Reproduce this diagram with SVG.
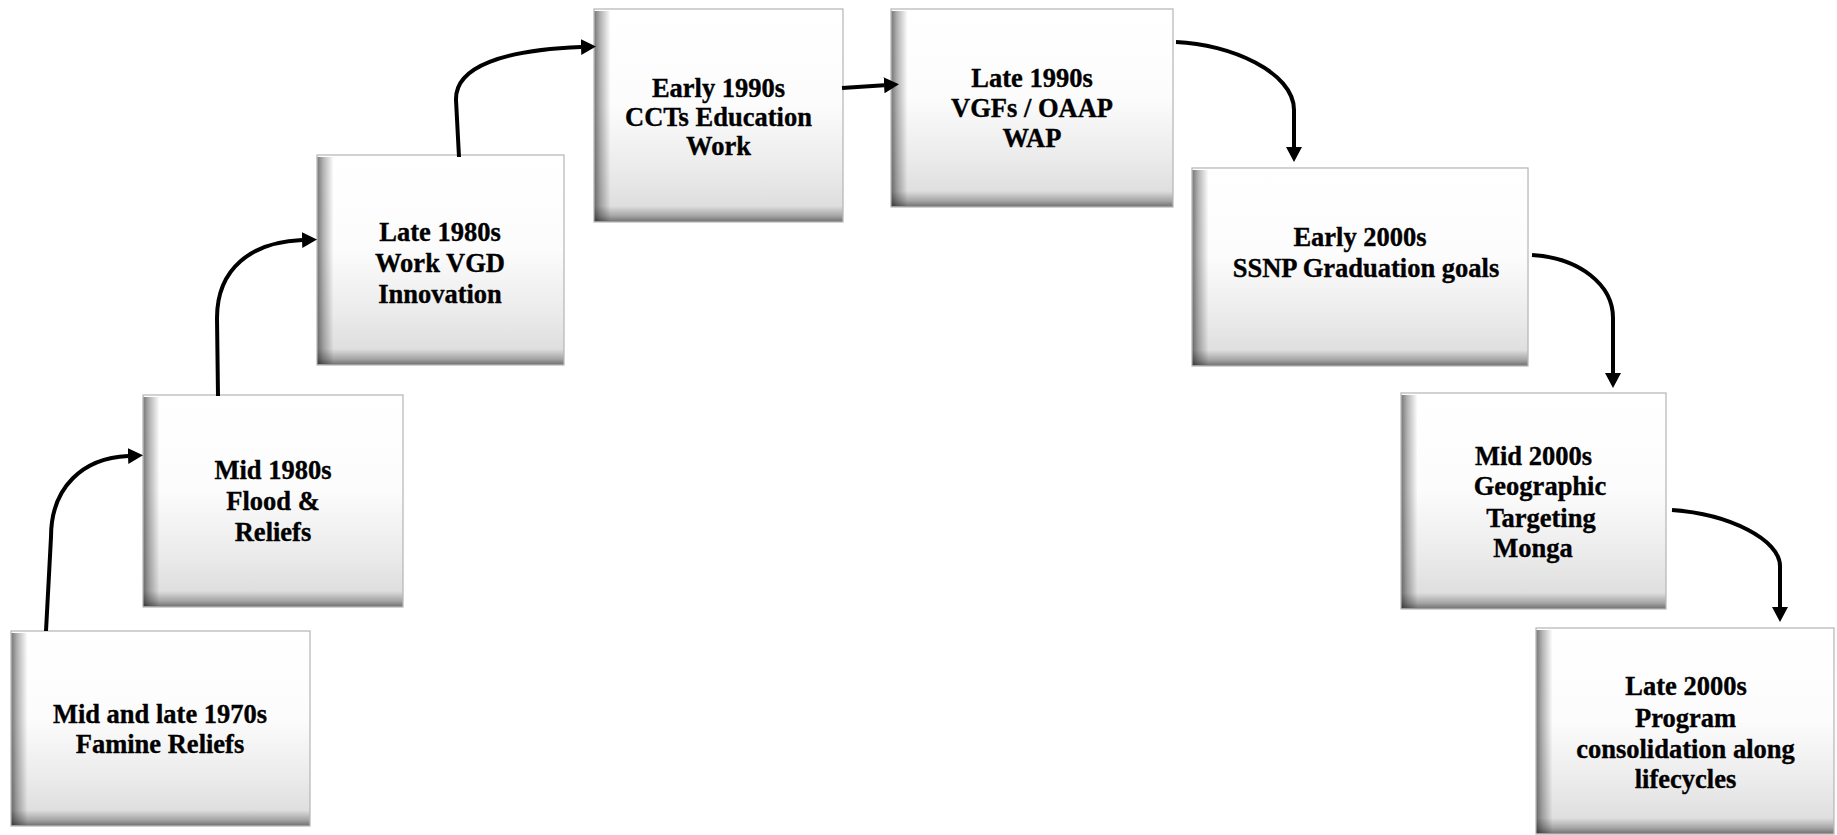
<svg xmlns="http://www.w3.org/2000/svg" width="1837" height="835" viewBox="0 0 1837 835">
  <style>
    .box { fill: url(#boxFill); stroke: #b4b4b4; stroke-width: 1.2; }
    .shadeL { fill: url(#shadeLeft); }
    .shadeB { fill: url(#shadeBottom); }
    .label { font-family: "Liberation Serif", "Times New Roman", serif; font-weight: bold; font-size: 26.5px; fill: #000; stroke: #000; stroke-width: 0.35; text-anchor: middle; }
    .link { fill: none; stroke: #000; stroke-width: 4; stroke-linecap: butt; marker-end: url(#head); }
  </style>
  <defs>
    <linearGradient id="boxFill" x1="0" y1="0" x2="0" y2="1">
      <stop offset="0" stop-color="#ffffff"/>
      <stop offset="0.45" stop-color="#fcfcfc"/>
      <stop offset="0.75" stop-color="#ebebeb"/>
      <stop offset="1" stop-color="#d9d9d9"/>
    </linearGradient>
    <linearGradient id="shadeLeft" x1="0" y1="0" x2="1" y2="0">
      <stop offset="0" stop-color="#000" stop-opacity="0.52"/>
      <stop offset="0.35" stop-color="#000" stop-opacity="0.3"/>
      <stop offset="1" stop-color="#000" stop-opacity="0"/>
    </linearGradient>
    <linearGradient id="shadeBottom" x1="0" y1="0" x2="0" y2="1">
      <stop offset="0" stop-color="#000" stop-opacity="0"/>
      <stop offset="0.65" stop-color="#000" stop-opacity="0.25"/>
      <stop offset="1" stop-color="#000" stop-opacity="0.47"/>
    </linearGradient>
    <marker id="head" markerUnits="userSpaceOnUse" markerWidth="16" markerHeight="16" refX="0" refY="8" orient="auto" viewBox="0 0 16 16">
      <path d="M0,0 L15,8 L0,16 Z" fill="#000"/>
    </marker>
  </defs>

  <!-- timeline stages -->
  <g id="node-1970s">
    <rect class="box" x="11" y="631" width="299" height="195"/>
    <rect class="shadeL" x="11.6" y="633" width="16" height="192"/>
    <rect class="shadeB" x="11.6" y="810" width="297.8" height="15.4"/>
    <text class="label" x="160" y="723">Mid and late 1970s</text>
    <text class="label" x="160" y="753">Famine Reliefs</text>
  </g>

  <g id="node-mid1980s">
    <rect class="box" x="143" y="395" width="260" height="212"/>
    <rect class="shadeL" x="143.6" y="397" width="16" height="209"/>
    <rect class="shadeB" x="143.6" y="591" width="258.8" height="15.4"/>
    <text class="label" x="273" y="479">Mid 1980s</text>
    <text class="label" x="273" y="510">Flood &amp;</text>
    <text class="label" x="273" y="541">Reliefs</text>
  </g>

  <g id="node-late1980s">
    <rect class="box" x="317" y="155" width="247" height="210"/>
    <rect class="shadeL" x="317.6" y="157" width="16" height="207"/>
    <rect class="shadeB" x="317.6" y="349" width="245.8" height="15.4"/>
    <text class="label" x="440" y="241">Late 1980s</text>
    <text class="label" x="440" y="272">Work VGD</text>
    <text class="label" x="440" y="303">Innovation</text>
  </g>

  <g id="node-early1990s">
    <rect class="box" x="594" y="9" width="249" height="213"/>
    <rect class="shadeL" x="594.6" y="11" width="16" height="210"/>
    <rect class="shadeB" x="594.6" y="206" width="247.8" height="15.4"/>
    <text class="label" x="718.5" y="97">Early 1990s</text>
    <text class="label" x="718.5" y="126">CCTs Education</text>
    <text class="label" x="718.5" y="155">Work</text>
  </g>

  <g id="node-late1990s">
    <rect class="box" x="891" y="9" width="282" height="198"/>
    <rect class="shadeL" x="891.6" y="11" width="16" height="195"/>
    <rect class="shadeB" x="891.6" y="191" width="280.8" height="15.4"/>
    <text class="label" x="1032" y="87">Late 1990s</text>
    <text class="label" x="1032" y="117">VGFs / OAAP</text>
    <text class="label" x="1032" y="147">WAP</text>
  </g>

  <g id="node-early2000s">
    <rect class="box" x="1192" y="168" width="336" height="198"/>
    <rect class="shadeL" x="1192.6" y="170" width="16" height="195"/>
    <rect class="shadeB" x="1192.6" y="350" width="334.8" height="15.4"/>
    <text class="label" x="1360" y="246">Early 2000s</text>
    <text class="label" x="1366" y="277">SSNP Graduation goals</text>
  </g>

  <g id="node-mid2000s">
    <rect class="box" x="1401" y="393" width="265" height="216"/>
    <rect class="shadeL" x="1401.6" y="395" width="16" height="213"/>
    <rect class="shadeB" x="1401.6" y="593" width="263.8" height="15.4"/>
    <text class="label" x="1533.5" y="465">Mid 2000s</text>
    <text class="label" x="1540" y="495">Geographic</text>
    <text class="label" x="1541" y="527">Targeting</text>
    <text class="label" x="1533" y="557">Monga</text>
  </g>

  <g id="node-late2000s">
    <rect class="box" x="1536" y="628" width="298" height="206"/>
    <rect class="shadeL" x="1536.6" y="630" width="16" height="203"/>
    <rect class="shadeB" x="1536.6" y="818" width="296.8" height="15.4"/>
    <text class="label" x="1686" y="695">Late 2000s</text>
    <text class="label" x="1685.5" y="727">Program</text>
    <text class="label" x="1685.5" y="758">consolidation along</text>
    <text class="label" x="1685.5" y="788">lifecycles</text>
  </g>

  <!-- connectors between stages -->
  <g id="connectors">
    <path class="link" d="M46,631 L51,537 C51,487 83,458 128,456"/>
    <path class="link" d="M218,396 L217,318 C217,268 252,242 302,240"/>
    <path class="link" d="M459,157 L456,100 C455,66 505,50 581,47"/>
    <path class="link" d="M842,88 L884,85.3"/>
    <path class="link" d="M1176,42 C1230,44 1294,72 1294,110 L1294,147"/>
    <path class="link" d="M1532,255 C1580,258 1613,285 1613,318 L1613,373"/>
    <path class="link" d="M1672,510 C1730,514 1780,540 1780,566 L1780,607"/>
  </g>
</svg>
